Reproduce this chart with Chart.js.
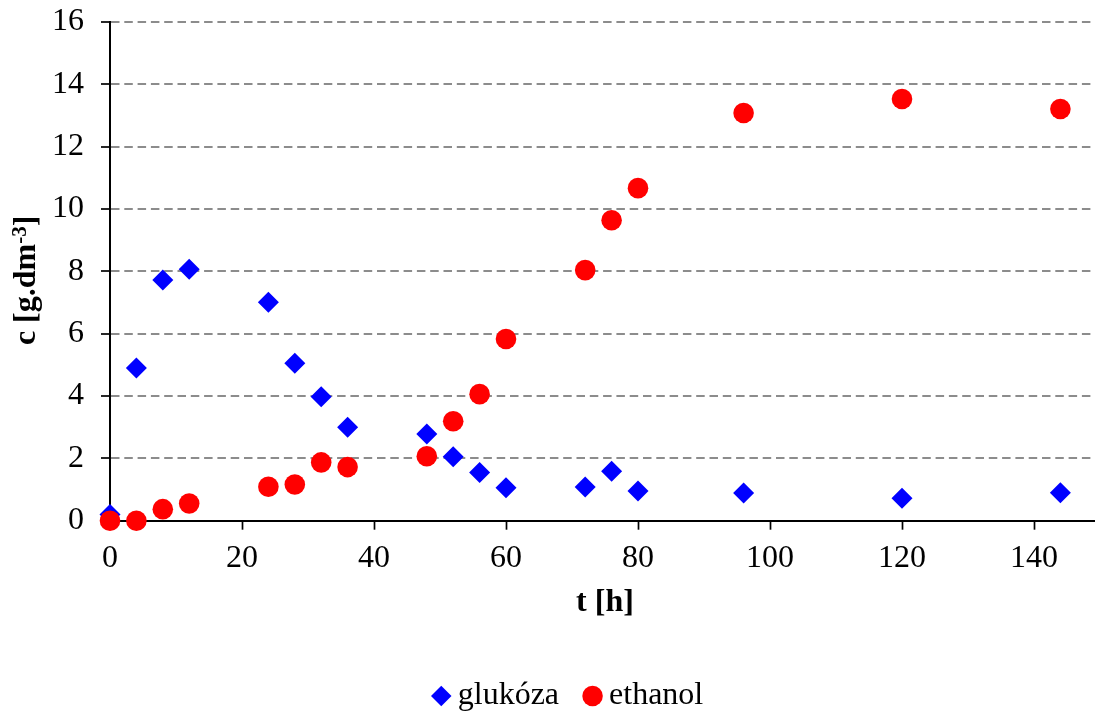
<!DOCTYPE html>
<html>
<head>
<meta charset="utf-8">
<script src="https://cdn.jsdelivr.net/npm/chart.js@4/dist/chart.umd.min.js"></script>
<style>
  html, body { margin: 0; padding: 0; background: #ffffff; overflow: hidden; }
  canvas { display: block; }
</style>
</head>
<body>
<canvas id="chart" width="1100" height="711"></canvas>
<script>
// Sampling times [h]
const glucoseTimes = [0, 4, 8, 12, 24, 28, 32, 36, 48, 52, 56, 60, 72, 76, 80, 96, 120, 144];
const ethanolTimes = [0, 4, 8, 12, 24, 28, 32, 36, 48, 52, 56, 60, 72, 76, 80, 96, 120, 144];

// Concentrations c [g.dm-3]
const glucoseValues = [0.2, 4.9, 7.72, 8.07, 7.01, 5.05, 3.98, 3.0, 2.78, 2.05, 1.55, 1.06, 1.08, 1.59, 0.95, 0.89, 0.72, 0.9];
const ethanolValues = [0.0, 0.0, 0.37, 0.55, 1.09, 1.16, 1.87, 1.72, 2.07, 3.19, 4.06, 5.83, 8.04, 9.64, 10.67, 13.08, 13.53, 13.21];

const seriesNames = ['glukóza', 'ethanol'];
const xTitle = 't [h]';
// y title pieces: main text, superscript, closing bracket
const yTitleParts = ['c [g.dm', '-3', ']'];
const xTickStep = 20;
const yTickStep = 2;

const toPoints = (xs, ys) => xs.map((x, i) => ({ x: x, y: ys[i] }));

const FONT = '"Liberation Serif", "Times New Roman", serif';

// Moves the legend row to its place below the plot
const legendShift = {
  id: 'legendShift',
  afterLayout(chart) {
    const lg = chart.legend;
    if (!lg) return;
    const dx = 22, dy = 11;
    lg.left += dx; lg.right += dx;
    lg.top += dy; lg.bottom += dy;
  }
};

// Vertical y-axis title with a real superscript in the unit
const yTitlePlugin = {
  id: 'yTitleSup',
  afterDraw(chart) {
    const ctx = chart.ctx;
    const a = chart.chartArea;
    const mainFont = 'bold 32px ' + FONT;
    const supFont = 'bold 21px ' + FONT;
    ctx.save();
    ctx.font = mainFont;
    const w1 = ctx.measureText(yTitleParts[0]).width;
    const w3 = ctx.measureText(yTitleParts[2]).width;
    ctx.font = supFont;
    const w2 = ctx.measureText(yTitleParts[1]).width;
    const total = w1 + w2 + w3;
    ctx.translate(35, (a.top + a.bottom) / 2 + 9);
    ctx.rotate(-Math.PI / 2);
    ctx.textAlign = 'left';
    ctx.textBaseline = 'alphabetic';
    ctx.fillStyle = '#000000';
    let x = -total / 2;
    ctx.font = mainFont;
    ctx.fillText(yTitleParts[0], x, 0);
    x += w1;
    ctx.font = supFont;
    ctx.fillText(yTitleParts[1], x, -9);
    x += w2;
    ctx.font = mainFont;
    ctx.fillText(yTitleParts[2], x, 0);
    ctx.restore();
  }
};

new Chart(document.getElementById('chart'), {
  type: 'scatter',
  data: {
    datasets: [
      {
        label: seriesNames[0],
        data: toPoints(glucoseTimes, glucoseValues),
        pointStyle: 'rectRot',
        pointRadius: 10.5,
        pointHoverRadius: 10.5,
        pointBackgroundColor: '#0000ff',
        pointBorderColor: '#0000ff',
        pointBorderWidth: 0,
        backgroundColor: '#0000ff',
        borderColor: '#0000ff',
        clip: false,
        order: 1
      },
      {
        label: seriesNames[1],
        data: toPoints(ethanolTimes, ethanolValues),
        pointStyle: 'circle',
        pointRadius: 10.3,
        pointHoverRadius: 10.3,
        pointBackgroundColor: '#ff0000',
        pointBorderColor: '#ff0000',
        pointBorderWidth: 0,
        backgroundColor: '#ff0000',
        borderColor: '#ff0000',
        clip: false,
        order: 0
      }
    ]
  },
  options: {
    responsive: false,
    animation: false,
    events: [],
    layout: { autoPadding: false, padding: { left: 0, right: 0, top: 22, bottom: 0 } },
    plugins: {
      tooltip: { enabled: false },
      legend: {
        position: 'bottom',
        labels: {
          usePointStyle: true,
          boxHeight: 14.5,
          boxWidth: 1,
          padding: 33,
          color: '#000000',
          font: { family: FONT, size: 32 },
          sort: (a, b) => a.datasetIndex - b.datasetIndex
        }
      }
    },
    scales: {
      x: {
        type: 'linear',
        min: 0,
        max: 150,
        afterBuildTicks: (scale) => {
          scale.ticks = scale.ticks.filter(t => t.value % xTickStep === 0);
        },
        afterFit: (scale) => {
          scale.paddingLeft = 0;
          scale.paddingRight = 0;
          scale.height = 115.3;
        },
        ticks: {
          stepSize: xTickStep,
          includeBounds: false,
          color: '#000000',
          padding: 9.5,
          maxRotation: 0,
          font: { family: FONT, size: 32 }
        },
        grid: {
          drawOnChartArea: false,
          drawTicks: true,
          tickLength: 9,
          tickWidth: 1.7,
          tickColor: '#000000'
        },
        border: { display: true, color: '#000000', width: 2 },
        title: {
          display: true,
          text: xTitle,
          color: '#000000',
          font: { family: FONT, size: 32, weight: 'bold' },
          padding: { top: 8, bottom: 14 }
        }
      },
      y: {
        type: 'linear',
        min: 0,
        max: 16,
        afterFit: (scale) => { scale.width = 110; scale.paddingTop = 0; scale.paddingBottom = 0; },
        ticks: {
          stepSize: yTickStep,
          color: '#000000',
          padding: 17,
          font: { family: FONT, size: 32 }
        },
        grid: {
          color: '#8c8c8c',
          lineWidth: 2,
          drawTicks: true,
          tickLength: 9,
          tickWidth: 1.7,
          tickColor: '#000000',
          tickBorderDash: []
        },
        border: { display: true, color: '#000000', width: 2, dash: [8.5, 4.8] },
        title: { display: false }
      }
    }
  },
  plugins: [legendShift, yTitlePlugin]
});
</script>
</body>
</html>
